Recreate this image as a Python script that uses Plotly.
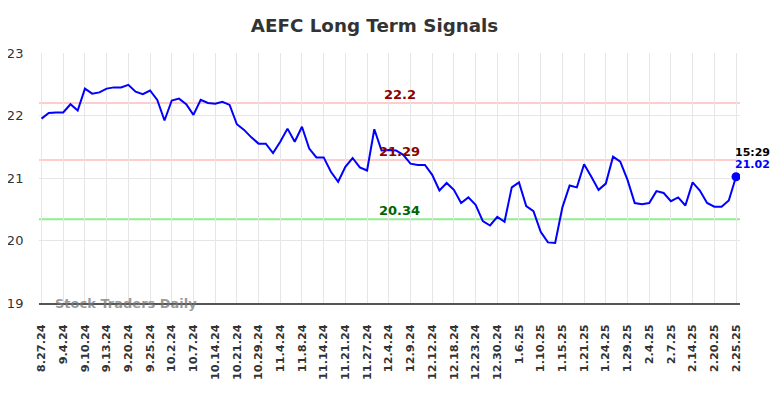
import plotly.graph_objects as go

tick_labels = ["8.27.24", "9.4.24", "9.10.24", "9.13.24", "9.20.24", "9.25.24", "10.2.24",
               "10.7.24", "10.14.24", "10.21.24", "10.29.24", "11.4.24", "11.8.24", "11.14.24",
               "11.21.24", "11.27.24", "12.4.24", "12.9.24", "12.12.24", "12.18.24", "12.23.24",
               "12.30.24", "1.6.25", "1.10.25", "1.15.25", "1.21.25", "1.24.25", "1.29.25",
               "2.4.25", "2.7.25", "2.14.25", "2.20.25", "2.25.25"]

prices = [21.95, 22.04, 22.05, 22.05, 22.18, 22.08, 22.43, 22.35, 22.37, 22.43,
          22.45, 22.45, 22.49, 22.38, 22.34, 22.40, 22.25, 21.92, 22.24, 22.27,
          22.18, 22.01, 22.25, 22.20, 22.19, 22.22, 22.17, 21.86, 21.77, 21.65,
          21.55, 21.55, 21.40, 21.58, 21.79, 21.58, 21.82, 21.47, 21.33, 21.33,
          21.10, 20.94, 21.18, 21.32, 21.17, 21.12, 21.78, 21.44, 21.45, 21.44,
          21.37, 21.23, 21.21, 21.21, 21.05, 20.80, 20.92, 20.81, 20.60, 20.69,
          20.57, 20.31, 20.24, 20.38, 20.30, 20.85, 20.93, 20.55, 20.47, 20.14,
          19.97, 19.96, 20.53, 20.88, 20.85, 21.22, 21.02, 20.81, 20.91, 21.34,
          21.26, 20.97, 20.60, 20.58, 20.60, 20.79, 20.76, 20.63, 20.69, 20.56,
          20.93, 20.80, 20.60, 20.54, 20.54, 20.64, 21.02]

tick_step = 3
resistance_levels = [22.2, 21.29]
support_levels = [20.34]
last_time = "15:29"

x_idx = list(range(len(prices)))
tick_vals = [i * tick_step for i in range(len(tick_labels))]
tick_text = [f"<b>{t}</b>" for t in tick_labels]

W, H = 776, 390

fig = go.Figure()
fig.add_trace(go.Scatter(x=x_idx, y=prices, mode="lines",
                         line=dict(color="#0000ff", width=2), hoverinfo="skip"))
fig.add_trace(go.Scatter(x=[x_idx[-1]], y=[prices[-1]], mode="markers",
                         marker=dict(color="#0000ff", size=9), hoverinfo="skip"))

mid_x = 49.55
for lv in resistance_levels:
    fig.add_hline(y=lv, line=dict(color="#ffcccc", width=2), layer="below")
    fig.add_annotation(x=mid_x, y=lv, text=f"<b>{lv:g}</b>", showarrow=False,
                       yanchor="bottom", yshift=-1,
                       font=dict(color="#8b0000", size=13, family="DejaVu Sans"))
for lv in support_levels:
    fig.add_hline(y=lv, line=dict(color="#90ee90", width=2), layer="below")
    fig.add_annotation(x=mid_x, y=lv, text=f"<b>{lv:g}</b>", showarrow=False,
                       yanchor="bottom", yshift=-1,
                       font=dict(color="#006400", size=13, family="DejaVu Sans"))

fig.add_annotation(x=x_idx[-1], y=prices[-1], text=f"<b>{last_time}</b>", showarrow=False,
                   xanchor="center", yanchor="bottom", xshift=16, yshift=16,
                   font=dict(color="#000000", size=11, family="DejaVu Sans"))
fig.add_annotation(x=x_idx[-1], y=prices[-1], text=f"<b>{prices[-1]:.2f}</b>", showarrow=False,
                   xanchor="center", yanchor="bottom", xshift=16, yshift=4,
                   font=dict(color="#0000ff", size=11, family="DejaVu Sans"))

fig.add_annotation(x=0.02, xref="paper", y=19, yref="y", text="<b>Stock Traders Daily</b>",
                   showarrow=False, xanchor="left", yanchor="middle",
                   font=dict(color="rgba(120,120,120,0.75)", size=13, family="DejaVu Sans"))

fig.update_layout(
    width=W, height=H,
    margin=dict(l=31, r=44, t=45, b=95),
    paper_bgcolor="white", plot_bgcolor="white",
    showlegend=False,
    title=dict(text="<b>AEFC Long Term Signals</b>", x=366.5 / W, xanchor="center",
               y=1 - 18 / H, yanchor="middle",
               font=dict(size=18.3, color="#333333", family="DejaVu Sans")),
    font=dict(family="DejaVu Sans", color="#333333"),
)
fig.update_xaxes(range=[-0.35, 96.55], tickmode="array", tickvals=tick_vals, ticktext=tick_text,
                 tickangle=-90, tickfont=dict(size=11.3, color="#333333", family="DejaVu Sans"),
                 showgrid=True, gridcolor="#e6e6e6", gridwidth=1, zeroline=False,
                 showline=True, linecolor="#555555", linewidth=1.5,
                 ticks="outside", ticklen=15, tickcolor="rgba(0,0,0,0)", automargin=False)
fig.update_yaxes(range=[19, 23], tickvals=[19, 20, 21, 22, 23],
                 tickfont=dict(size=13, color="#333333", family="DejaVu Sans"),
                 showgrid=True, gridcolor="#e6e6e6", gridwidth=1, zeroline=False,
                 showline=False, ticks="outside", ticklen=12, tickcolor="rgba(0,0,0,0)",
                 automargin=False)

fig.write_html("out.html")
